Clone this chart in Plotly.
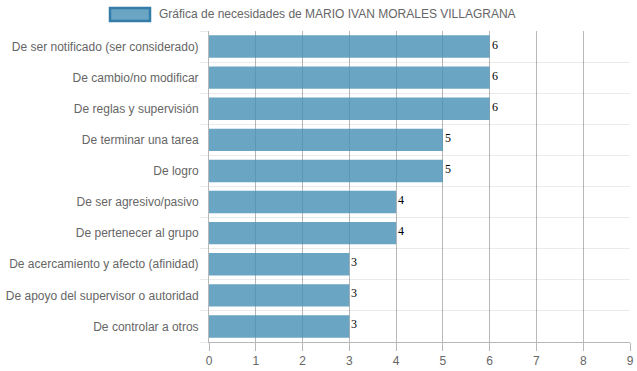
import plotly.graph_objects as go

categories = [
    "De ser notificado (ser considerado)",
    "De cambio/no modificar",
    "De reglas y supervisión",
    "De terminar una tarea",
    "De logro",
    "De ser agresivo/pasivo",
    "De pertenecer al grupo",
    "De acercamiento y afecto (afinidad)",
    "De apoyo del supervisor o autoridad",
    "De controlar a otros",
]
values = [6, 6, 6, 5, 5, 4, 4, 3, 3, 3]
x_ticks = [0, 1, 2, 3, 4, 5, 6, 7, 8, 9]
series_name = "Gráfica de necesidades de MARIO IVAN MORALES VILLAGRANA"

W, H = 637, 371
ML, MR, MT, MB = 209, 7, 31, 29
PW, PH = W - ML - MR, H - MT - MB

def px_x(p):
    return (p - ML) / PW

def px_y(p):
    return (H - MB - p) / PH

FONT = "Liberation Sans, Arial, Helvetica, sans-serif"
BAR_FILL = "rgba(69,143,181,0.8)"
BAR_LINE = "rgba(52,125,168,1)"

idx = list(range(len(categories)))

fig = go.Figure()
fig.add_trace(go.Bar(
    x=values, y=idx, orientation="h", width=0.72,
    marker=dict(color=BAR_FILL, line=dict(width=0)),
    name=series_name, showlegend=False, hoverinfo="x+y",
))

annotations = []
for i, v in zip(idx, values):
    annotations.append(dict(
        x=v, y=i, xref="x", yref="y", text=str(v), showarrow=False,
        xanchor="left", yanchor="middle", xshift=0, yshift=2,
        font=dict(family="Liberation Serif, Times New Roman, serif", size=12, color="#000"),
    ))
annotations.append(dict(
    x=px_x(157), y=px_y(14.5), xref="paper", yref="paper", text=series_name,
    showarrow=False, xanchor="left", yanchor="middle",
    font=dict(family=FONT, size=12, color="#666"),
))

shapes = [dict(
    type="rect", xref="paper", yref="paper",
    x0=px_x(110), x1=px_x(150), y0=px_y(21), y1=px_y(8),
    fillcolor="rgba(106,165,196,1)", line=dict(color=BAR_LINE, width=2.5),
)]

fig.update_layout(
    width=W, height=H,
    margin=dict(l=ML, r=MR, t=MT, b=MB, pad=0, autoexpand=False),
    paper_bgcolor="white", plot_bgcolor="white",
    font=dict(family=FONT, size=12, color="#666"),
    showlegend=False,
    annotations=annotations,
    shapes=shapes,
)
fig.update_xaxes(
    range=[0, 9], tickvals=x_ticks, ticktext=[str(t) for t in x_ticks],
    showgrid=True, gridcolor="rgba(0,0,0,0.28)", gridwidth=1,
    zeroline=False, showline=True, linecolor="rgba(0,0,0,0.28)", linewidth=1,
    ticks="outside", ticklen=8, tickcolor="rgba(0,0,0,0.28)",
    tickfont=dict(family=FONT, size=12, color="#666"),
    automargin=False, fixedrange=True,
)
fig.update_yaxes(
    range=[len(categories) - 0.5, -0.5],
    tickvals=idx, ticktext=categories,
    showgrid=False, zeroline=False,
    showline=True, linecolor="rgba(0,0,0,0.28)", linewidth=1,
    ticks="", ticklabelstandoff=7,
    minor=dict(tickvals=[i - 0.5 for i in range(len(categories) + 1)],
               showgrid=True, gridcolor="rgba(0,0,0,0.08)", gridwidth=1,
               ticks="outside", ticklen=8, tickcolor="rgba(0,0,0,0.08)"),
    tickfont=dict(family=FONT, size=12, color="#666"),
    automargin=False, fixedrange=True,
)

fig.write_html(
    "out.html",
    config={"displayModeBar": False},
    post_script="document.body.style.margin='0';document.body.style.overflow='hidden';",
)
